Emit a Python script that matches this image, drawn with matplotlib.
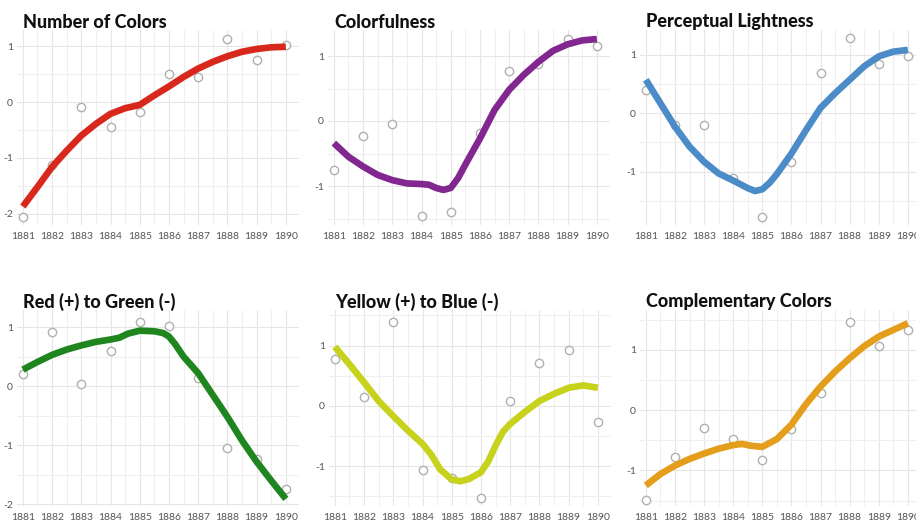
import matplotlib.pyplot as plt
from matplotlib.ticker import MultipleLocator

plt.rcParams['font.family'] = ['Lato', 'DejaVu Sans']
plt.rcParams['axes.unicode_minus'] = False

years = [1881, 1882, 1883, 1884, 1885, 1886, 1887, 1888, 1889, 1890]
year_labels = [str(y) for y in years]

# Number of Colors
n_colors_pts = [-2.05, -1.13, -0.09, -0.45, -0.18, 0.50, 0.45, 1.13, 0.75, 1.03]
n_colors_x = [1881, 1881.5, 1882, 1882.5, 1883, 1883.5, 1884, 1884.5, 1885, 1885.5,
              1886, 1886.5, 1887, 1887.5, 1888, 1888.5, 1889, 1889.5, 1890]
n_colors_y = [-1.87, -1.52, -1.16, -0.87, -0.60, -0.39, -0.21, -0.11, -0.05, 0.12,
              0.28, 0.45, 0.60, 0.72, 0.82, 0.90, 0.95, 0.98, 0.99]

# Colorfulness
colorful_x = [1881, 1881.5, 1882, 1882.5, 1883, 1883.5, 1884, 1884.25, 1884.5, 1884.75,
              1885, 1885.25, 1885.5, 1886, 1886.5, 1887, 1887.5, 1888, 1888.5, 1889,
              1889.5, 1890]
colorful_pts = [-0.76, -0.23, -0.05, -1.46, -1.40, -0.18, 0.77, 0.88, 1.26, 1.15]
colorful_y = [-0.34, -0.55, -0.70, -0.83, -0.91, -0.96, -0.97, -0.98, -1.03, -1.06,
              -1.03, -0.88, -0.67, -0.27, 0.17, 0.48, 0.71, 0.91, 1.08, 1.18,
              1.24, 1.26]

# Perceptual Lightness
light_pts = [0.40, -0.20, -0.21, -1.10, -1.77, -0.83, 0.69, 1.28, 0.84, 0.98]
light_x = [1881, 1881.5, 1882, 1882.5, 1883, 1883.5, 1884, 1884.5, 1884.75, 1885,
           1885.25, 1885.5, 1886, 1886.5, 1887, 1887.5, 1888, 1888.5, 1889, 1889.5, 1890]
light_y = [0.57, 0.17, -0.23, -0.57, -0.83, -1.03, -1.15, -1.28, -1.33, -1.30,
           -1.19, -1.04, -0.69, -0.29, 0.09, 0.34, 0.57, 0.80, 0.97, 1.05, 1.08]

# Red (+) to Green (-)
red_green_pts = [0.20, 0.92, 0.04, 0.60, 1.08, 1.02, 0.13, -1.04, -1.23, -1.75]
red_green_x = [1881, 1881.5, 1882, 1882.5, 1883, 1883.5, 1884, 1884.3, 1884.6, 1885,
               1885.5, 1885.8, 1886, 1886.2, 1886.5, 1887, 1887.5, 1888, 1888.5, 1889,
               1889.5, 1890]
red_green_y = [0.28, 0.41, 0.53, 0.62, 0.69, 0.75, 0.79, 0.82, 0.89, 0.94,
               0.93, 0.90, 0.84, 0.72, 0.50, 0.22, -0.15, -0.52, -0.92, -1.28,
               -1.60, -1.91]

# Yellow (+) to Blue (-)
yellow_blue_pts = [0.78, 0.15, 1.39, -1.06, -1.20, -1.53, 0.08, 0.71, 0.92, -0.26]
yellow_blue_x = [1881, 1881.5, 1882, 1882.5, 1883, 1883.5, 1884, 1884.3, 1884.6, 1885,
                 1885.3, 1885.6, 1886, 1886.25, 1886.5, 1886.75, 1887, 1887.5, 1888,
                 1888.5, 1889, 1889.5, 1890]
yellow_blue_y = [0.98, 0.69, 0.39, 0.08, -0.17, -0.41, -0.63, -0.81, -1.05, -1.22,
                 -1.25, -1.21, -1.10, -0.92, -0.66, -0.43, -0.30, -0.10, 0.08,
                 0.20, 0.30, 0.34, 0.30]

# Complementary Colors
compl_pts = [-1.49, -0.78, -0.29, -0.48, -0.83, -0.32, 0.28, 1.46, 1.07, 1.33]
compl_x = [1881, 1881.5, 1882, 1882.5, 1883, 1883.5, 1884, 1884.3, 1884.6, 1885,
           1885.5, 1886, 1886.5, 1887, 1887.5, 1888, 1888.5, 1889, 1889.5, 1890]
compl_y = [-1.25, -1.06, -0.92, -0.81, -0.72, -0.64, -0.58, -0.56, -0.59, -0.61,
           -0.48, -0.24, 0.10, 0.39, 0.64, 0.86, 1.06, 1.22, 1.33, 1.44]

panels = [
    ('Number of Colors', n_colors_pts, n_colors_x, n_colors_y, '#d8281c',
     (17, 30, 299, 225), (-2.2, 1.29), [-2, -1, 0, 1]),
    ('Colorfulness', colorful_pts, colorful_x, colorful_y, '#82278f',
     (328, 30, 610, 225), (-1.6, 1.4), [-1, 0, 1]),
    ('Perceptual Lightness', light_pts, light_x, light_y, '#4b8cc8',
     (640, 30, 921, 225), (-1.91, 1.42), [-1, 0, 1]),
    ('Red (+) to Green (-)', red_green_pts, red_green_x, red_green_y, '#1f861f',
     (17, 310, 299, 506), (-2.03, 1.29), [-2, -1, 0, 1]),
    ('Yellow (+) to Blue (-)', yellow_blue_pts, yellow_blue_x, yellow_blue_y, '#c6d21c',
     (329, 310, 611, 506), (-1.66, 1.59), [-1, 0, 1]),
    ('Complementary Colors', compl_pts, compl_x, compl_y, '#e49e1c',
     (640, 310, 921, 506), (-1.59, 1.66), [-1, 0, 1]),
]

W, H = 916, 521
fig = plt.figure(figsize=(W / 100, H / 100), dpi=100)

for title, pts, lx, ly, color, box, ylim, yticks in panels:
    l, t, r, b = box
    ax = fig.add_axes([l / W, 1 - b / H, (r - l) / W, (b - t) / H])
    ax.set_xlim(1880.8, 1890.45)
    ax.set_ylim(*ylim)
    ax.set_xticks(years)
    ax.set_xticklabels(year_labels)
    ax.set_yticks(yticks)
    ax.xaxis.set_minor_locator(MultipleLocator(0.5))
    ax.yaxis.set_minor_locator(MultipleLocator(0.5))
    ax.grid(which='major', color='#e6e6e6', lw=0.8)
    ax.grid(which='minor', color='#efefef', lw=0.8)
    ax.set_axisbelow(True)
    for s in ax.spines.values():
        s.set_visible(False)
    ax.tick_params(which='both', length=0)
    ax.tick_params(axis='x', labelsize=7.5, colors='#555555', pad=5)
    ax.tick_params(axis='y', labelsize=7.5, colors='#555555', pad=3)

    ax.plot(years, pts, 'o', mfc='white', mec='#b0b0b0', mew=1, ms=6, zorder=2)
    ax.plot(lx, ly, color=color, lw=4.8, solid_capstyle='butt',
            solid_joinstyle='round', zorder=3)

    fig.text((l + 6) / W, 1 - (t - 8) / H, title, fontsize=13, fontweight='black',
             ha='left', va='center', color='#111111')

fig.savefig('out.png', dpi=100, facecolor='white')
